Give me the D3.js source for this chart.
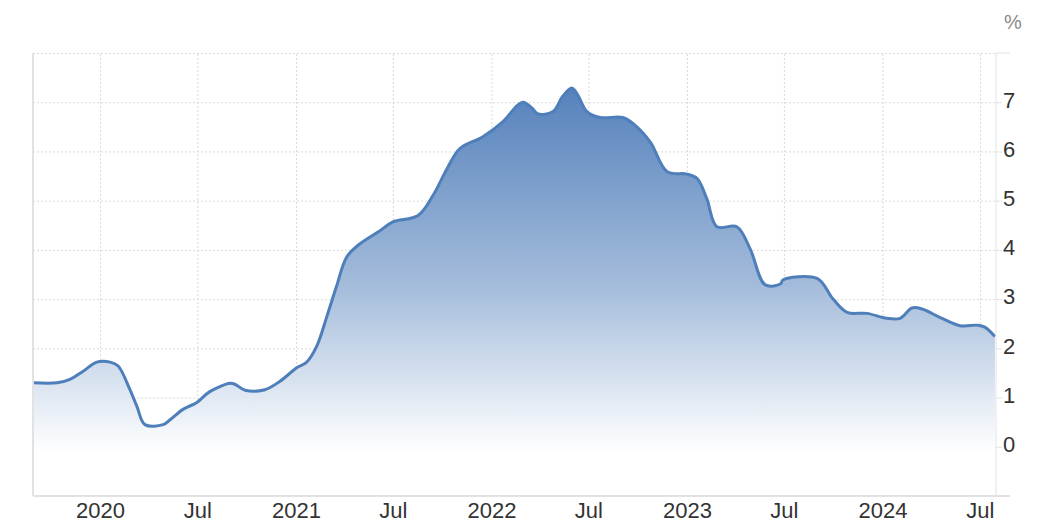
<!DOCTYPE html>
<html>
<head>
<meta charset="utf-8">
<script src="https://cdn.jsdelivr.net/npm/d3@7"></script>
<style>
  body { margin:0; background:#fff; }
  text { font-family: "Liberation Sans", Arial, sans-serif; }
  .grid line { stroke:#d9d9d9; stroke-dasharray:2,2; }
  .grid path { display:none; }
  .axis path, .axis line { stroke:#e2e2e2; }
  .axis text { fill:#333; font-size:22px; }
  .rateline { fill:none; stroke:#4f7fba; stroke-width:3; stroke-linejoin:round; }
</style>
</head>
<body>
<div id="chart"></div>
<script>
const svgHeight = 532;
const svgWidth = 1037;
const margin = {top:53, right:41, bottom:36, left:33};
const height = svgHeight - margin.top - margin.bottom;
const width = svgWidth - margin.right - margin.left;

// values
const dates = [
  "2019-08-29","2019-10-13","2019-11-06","2019-11-30","2019-12-26","2020-01-20","2020-02-04",
  "2020-02-26","2020-03-10","2020-03-25","2020-04-28","2020-05-11","2020-06-04","2020-06-30",
  "2020-07-24","2020-08-31","2020-09-09","2020-09-28","2020-11-04","2020-12-02","2021-01-03",
  "2021-01-21","2021-02-09","2021-02-28","2021-03-18","2021-04-06","2021-04-30","2021-06-07",
  "2021-07-01","2021-08-17","2021-09-14","2021-10-10","2021-11-03","2021-12-16","2022-01-22",
  "2022-02-18","2022-03-01","2022-03-18","2022-03-29","2022-04-26","2022-05-14","2022-05-31",
  "2022-06-11","2022-06-28","2022-07-23","2022-09-03","2022-09-22","2022-10-24","2022-11-25",
  "2023-01-01","2023-01-20","2023-02-07","2023-02-26","2023-04-04","2023-04-29","2023-05-27",
  "2023-06-25","2023-06-29","2023-09-01","2023-10-01","2023-10-27","2023-12-03","2024-01-09",
  "2024-02-03","2024-02-25","2024-03-15","2024-04-17","2024-05-25","2024-06-27","2024-07-10",
  "2024-07-29"
];
const values = [
  1.30,1.30,1.37,1.53,1.72,1.72,1.64,
  1.16,0.82,0.45,0.45,0.55,0.76,0.90,
  1.12,1.29,1.27,1.15,1.16,1.33,1.61,
  1.72,2.05,2.66,3.27,3.86,4.12,4.39,
  4.57,4.70,5.11,5.65,6.06,6.30,6.60,
  6.93,7.00,6.88,6.76,6.81,7.12,7.29,
  7.15,6.81,6.69,6.69,6.57,6.20,5.59,
  5.54,5.45,5.04,4.47,4.47,4.02,3.29,
  3.31,3.39,3.42,3.00,2.73,2.71,2.61,
  2.61,2.82,2.80,2.63,2.46,2.47,2.43,
  2.24
];
const yTicks = [0,1,2,3,4,5,6,7];
const yGrid = [-1,0,1,2,3,4,5,6,7,8];
const xStart = "2019-08-29";
const xEnd = "2024-07-31";
const unitLabel = "%";

document.addEventListener("DOMContentLoaded", function(event){
  drawChart();
});

function drawChart(){
  const parse = d3.timeParse("%Y-%m-%d");
  const data = dates.map(function(d,i){ return {x:parse(d), y:values[i]}; });

  const root = d3.select("#chart")
                 .append("svg")
                 .attr("width", svgWidth)
                 .attr("height", svgHeight);

  const svg = root.append("g")
                  .attr("transform","translate(" + margin.left + "," + margin.top + ")");

  //Add Scale and Axis
  const xscale = d3.scaleTime()
        .range([0,width])
        .domain([parse(xStart), parse(xEnd)]);

  const yscale = d3.scaleLinear()
        .range([height,0])
        .domain([-1,8]);

  const tickDates = d3.timeMonth.every(6).range(parse(xStart), parse(xEnd));

  const xaxisgrid = d3.axisBottom(xscale).tickValues(tickDates).tickSize(-height).tickFormat('');
  const yaxisgrid = d3.axisLeft(yscale).tickValues(yGrid).tickSize(-width).tickFormat('');

  svg.append("g")
     .attr("class","grid")
     .attr("transform","translate(0," + height + ")")
     .call(xaxisgrid);

  svg.append("g")
     .attr("class","grid")
     .call(yaxisgrid);

  //Gradient for the area
  const grad = root.append("defs")
                   .append("linearGradient")
                   .attr("id","areafill")
                   .attr("gradientUnits","userSpaceOnUse")
                   .attr("x1",0).attr("x2",0)
                   .attr("y1", yscale(7.4)).attr("y2", yscale(-0.1));
  grad.append("stop").attr("offset","0%").attr("stop-color","#5380bb");
  grad.append("stop").attr("offset","55%").attr("stop-color","#a4bcdb");
  grad.append("stop").attr("offset","100%").attr("stop-color","#ffffff");

  const area = d3.area()
       .x(function(d){ return xscale(d.x); })
       .y0(height)
       .y1(function(d){ return yscale(d.y); })
       .curve(d3.curveCatmullRom.alpha(0.5));

  const line = d3.line()
       .x(function(d){ return xscale(d.x); })
       .y(function(d){ return yscale(d.y); })
       .curve(d3.curveCatmullRom.alpha(0.5));

  svg.append("path")
     .datum(data)
     .attr("fill","url(#areafill)")
     .attr("d", area);

  svg.append("path")
     .datum(data)
     .attr("class","rateline")
     .attr("d", line);

  //Left border
  svg.append("line")
     .attr("x1",0).attr("x2",0)
     .attr("y1",0).attr("y2",height)
     .attr("stroke","#e2e2e2")
     .attr("stroke-width",2);

  //Bottom axis
  const xaxis = d3.axisBottom(xscale)
       .tickValues(tickDates)
       .tickSize(0)
       .tickPadding(6)
       .tickFormat(function(d){ return d.getMonth() === 0 ? d3.timeFormat("%Y")(d) : "Jul"; });

  const gx = svg.append("g")
     .attr("class","axis")
     .attr("transform","translate(0," + height + ")")
     .call(xaxis);
  gx.select(".domain").remove();
  gx.append("line")
     .attr("x1",0).attr("x2",width + 14)
     .attr("y1",0).attr("y2",0)
     .attr("stroke","#e2e2e2")
     .attr("stroke-width",2);

  //Right axis
  const yaxis = d3.axisRight(yscale)
       .tickValues(yTicks)
       .tickSize(6)
       .tickPadding(1)
       .tickFormat(d3.format("d"));

  const gy = svg.append("g")
     .attr("class","axis")
     .attr("transform","translate(" + width + ",0)")
     .call(yaxis);
  gy.select(".domain").attr("d","M0,0V" + height);
  gy.selectAll("text").attr("dy","0.22em");

  svg.append("line")
     .attr("x1",width).attr("x2",width + 14)
     .attr("y1",0).attr("y2",0)
     .attr("stroke","#e2e2e2");

  root.append("text")
      .attr("x", 1013)
      .attr("y", 29)
      .attr("text-anchor","middle")
      .attr("fill","#8a8a8a")
      .attr("font-size","20px")
      .text(unitLabel);
}
</script>
</body>
</html>
